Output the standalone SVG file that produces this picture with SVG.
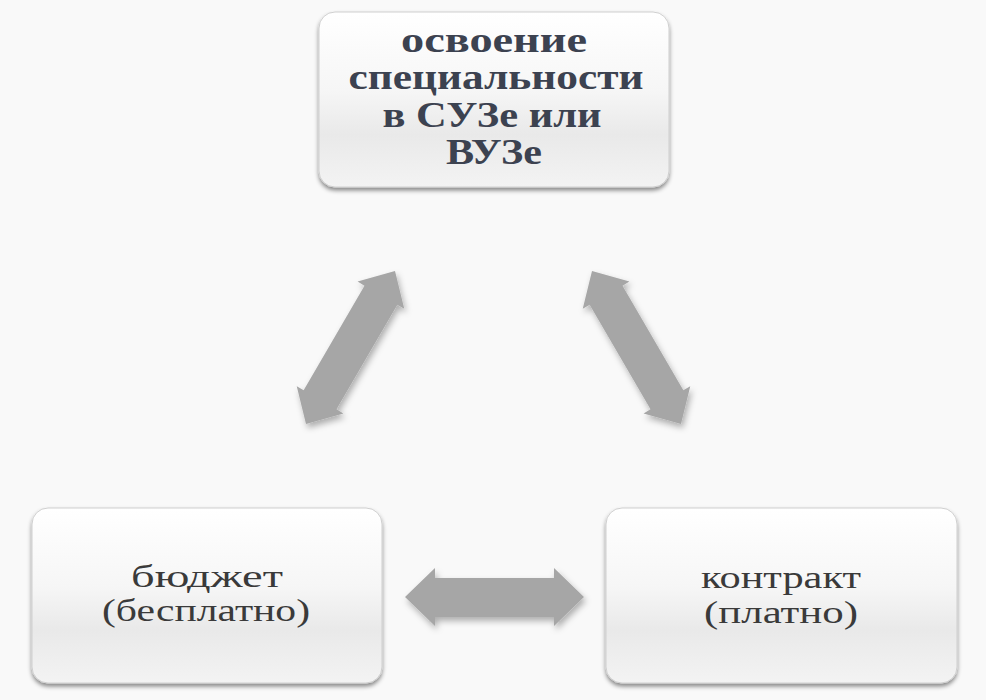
<svg xmlns="http://www.w3.org/2000/svg" width="986" height="700" viewBox="0 0 986 700">
<defs>
<linearGradient id="boxg" x1="0" y1="0" x2="0" y2="1">
<stop offset="0" stop-color="#ffffff"/>
<stop offset="0.45" stop-color="#f6f6f6"/>
<stop offset="0.7" stop-color="#e9e9e9"/>
<stop offset="1" stop-color="#f3f3f3"/>
</linearGradient>
<filter id="boxsh" x="-10%" y="-10%" width="120%" height="130%">
<feDropShadow dx="0" dy="3" stdDeviation="2" flood-color="#000" flood-opacity="0.45"/>
</filter>
<filter id="arrsh" x="-20%" y="-20%" width="140%" height="140%">
<feDropShadow dx="2" dy="4" stdDeviation="3" flood-color="#000" flood-opacity="0.3"/>
</filter>
</defs>
<style>
.box{fill:url(#boxg);stroke:#cfcfcf;stroke-width:1;filter:url(#boxsh)}
.arrow{fill:#a6a6a6;filter:url(#arrsh)}
.bold{font-family:"Liberation Serif","Times New Roman",serif;font-weight:bold;font-size:35px;fill:#3c4250;text-anchor:middle}
.reg{font-family:"Liberation Serif","Times New Roman",serif;font-size:32px;fill:#3a3a3a;text-anchor:middle}
</style>
<rect width="986" height="700" fill="#f9f9f9"/>
<g id="connectors">
<path class="arrow" d="M306,424 L343.42,413.38 L336.50,409.35 L397.34,304.75 L404.26,308.78 L395,271 L357.58,281.62 L364.50,285.65 L303.66,390.25 L296.74,386.22 Z"/>
<path class="arrow" d="M681,424 L643.58,413.38 L650.50,409.35 L589.66,304.75 L582.74,308.78 L592,271 L629.42,281.62 L622.50,285.65 L683.34,390.25 L690.26,386.22 Z"/>
<path class="arrow" d="M405,597 L435,568 L435,578 L554,578 L554,568 L584,597 L554,626 L554,617 L435,617 L435,626 Z"/>
</g>
<g id="node-top">
<rect class="box" x="319" y="12" width="350" height="175" rx="16"/>
<text class="bold" x="494" y="52" textLength="186" lengthAdjust="spacingAndGlyphs">освоение</text>
<text class="bold" x="496" y="89" textLength="295" lengthAdjust="spacingAndGlyphs">специальности</text>
<text class="bold" x="492" y="127" textLength="219" lengthAdjust="spacingAndGlyphs">в СУЗе или</text>
<text class="bold" x="494" y="164" textLength="96" lengthAdjust="spacingAndGlyphs">ВУЗе</text>
</g>
<g id="node-budget">
<rect class="box" x="32" y="508" width="350" height="175" rx="16"/>
<text class="reg" x="207" y="587" textLength="152" lengthAdjust="spacingAndGlyphs">бюджет</text>
<text class="reg" x="206" y="621" textLength="208" lengthAdjust="spacingAndGlyphs">(бесплатно)</text>
</g>
<g id="node-contract">
<rect class="box" x="606" y="508" width="351" height="175" rx="16"/>
<text class="reg" x="781" y="588" textLength="160" lengthAdjust="spacingAndGlyphs">контракт</text>
<text class="reg" x="781" y="623" textLength="154" lengthAdjust="spacingAndGlyphs">(платно)</text>
</g>
</svg>
